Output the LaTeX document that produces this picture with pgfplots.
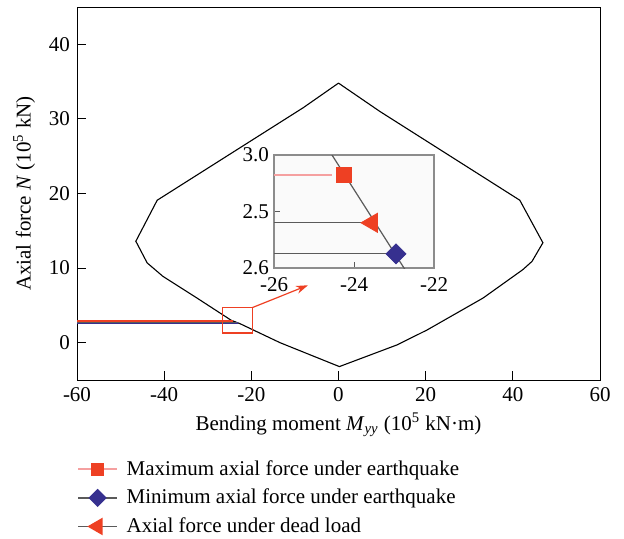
\documentclass[border=0pt]{standalone}
\usepackage{fontspec}
\setmainfont{Liberation Serif}
\usepackage{pgfplots}
\pgfplotsset{compat=1.18}
\usetikzlibrary{arrows.meta}
\definecolor{mred}{HTML}{EE4023}
\definecolor{mpink}{HTML}{F5A0A0}
\definecolor{mnavy}{HTML}{36308F}
\definecolor{mgray}{HTML}{5A5A5A}
\begin{document}
\begin{tikzpicture}
\useasboundingbox (-38.5pt,-79pt) rectangle (273.5pt,190pt);
\begin{axis}[name=main, at={(0,0)}, anchor=south west, scale only axis,
  width=261.5pt, height=186.5pt,
  xmin=-60, xmax=60, ymin=-5, ymax=45,
  xtick={-60,-40,...,60}, ytick={0,10,...,40},
  tick align=inside, xtick pos=left, ytick pos=left,
  major tick length=4.5pt, tick style={black, line width=0.5pt},
  axis line style={line width=0.5pt},
  /pgf/number format/assume math mode=true,
  ticklabel style={font=\fontsize{10.5}{12}\selectfont},
  label style={font=\fontsize{10.5}{12}\selectfont},
  xlabel={Bending moment \textit{M}\textsubscript{\textit{yy}} (10\textsuperscript{5} kN·m)},
  ylabel={Axial force \textit{N} (10\textsuperscript{5} kN)},
  xlabel style={yshift=1pt},
  legend cell align=left,
  legend style={at={(axis description cs:0,-0.193)}, anchor=north west, draw=none, fill=none,
    font=\fontsize{10.5}{12}\selectfont, row sep=1.4pt, inner xsep=0pt,
    /tikz/every odd column/.append style={column sep=2.5pt}},
  legend image code/.code={\draw[#1] (0cm,0cm) -- (0.68cm,0cm); \draw[#1, mark repeat=1] plot coordinates {(0.34cm,0cm)};},
]
\addlegendimage{mpink, line width=0.8pt, mark=square*, mark size=2.9pt, mark options={mred, solid}}
\addlegendentry{Maximum axial force under earthquake}
\addlegendimage{mgray, line width=0.8pt, mark=diamond*, mark size=4.0pt, mark options={mnavy, solid, xscale=1.33}}
\addlegendentry{Minimum axial force under earthquake}
\addlegendimage{mgray, line width=0.8pt, mark=triangle*, mark size=4.3pt, mark options={mred, solid, rotate=90}}
\addlegendentry{Axial force under dead load}

\addplot[black, line width=0.55pt, forget plot] coordinates {
(0,34.8) (-8.1,31.5) (-41.6,19.1) (-46.5,13.6) (-43.9,10.7) (-40.3,8.9) (-32.5,6.0)
(-24.6,3.0) (-22.7,2.58) (-13.4,0) (0.2,-3.2)
(13.4,-0.3) (20.3,1.7) (33.2,6.0) (42.3,9.8) (44.4,10.9) (46.9,13.4) (41.6,19.1) (9.5,31.0) (0,34.8)};
\addplot[mred, line width=1.2pt, forget plot] coordinates {(-60,2.93) (-24.25,2.93)};
\addplot[mnavy, line width=1.2pt, forget plot] coordinates {(-60,2.65) (-22.95,2.65)};
\addplot[mgray, line width=0.5pt, forget plot] coordinates {(-60,2.70) (-23.3,2.70)};
\draw[mred, line width=0.6pt] (axis cs:-26.7,1.3) rectangle (axis cs:-19.8,4.7);
\draw[mred, line width=0.6pt, -{Stealth[length=6pt,width=4pt]}] (axis cs:-19.8,4.7) -- (axis cs:-7,7.7);
\end{axis}

\begin{axis}[at={(98.5pt,56pt)}, anchor=south west, scale only axis,
  width=80pt, height=56.5pt,
  xmin=-26, xmax=-22, ymin=2.6, ymax=3.0,
  xtick={-26,-24,-22}, ytick={2.6,2.8,3.0}, yticklabels={2.6,2.5,3.0},
  tick align=inside, xtick pos=left, ytick pos=left,
  major tick length=3pt, tick style={mgray, line width=0.5pt},
  axis line style={black!45, line width=0.7pt},
  axis background/.style={fill=black!2},
  /pgf/number format/assume math mode=true,
  ticklabel style={font=\fontsize{10.5}{12}\selectfont},
  xticklabel style={yshift=-1.5pt},
  yticklabel style={xshift=1pt},
]
\addplot[mgray, line width=0.6pt] coordinates {(-25.0,3.1) (-22.3,2.5)};
\addplot[mpink, line width=0.8pt] coordinates {(-26,2.93) (-24.55,2.93)};
\addplot[mgray, line width=0.6pt] coordinates {(-26,2.76) (-23.55,2.76)};
\addplot[mgray, line width=0.6pt] coordinates {(-26,2.65) (-22.95,2.65)};
\addplot[only marks, mark=square*, mark size=3.6pt, mred] coordinates {(-24.25,2.93)};
\addplot[only marks, mark=triangle*, mark size=5.5pt, mark options={rotate=90}, mred] coordinates {(-23.55,2.76)};
\addplot[only marks, mark=diamond*, mark size=5pt, mark options={xscale=1.33}, mnavy] coordinates {(-22.95,2.65)};
\end{axis}
\end{tikzpicture}
\end{document}
